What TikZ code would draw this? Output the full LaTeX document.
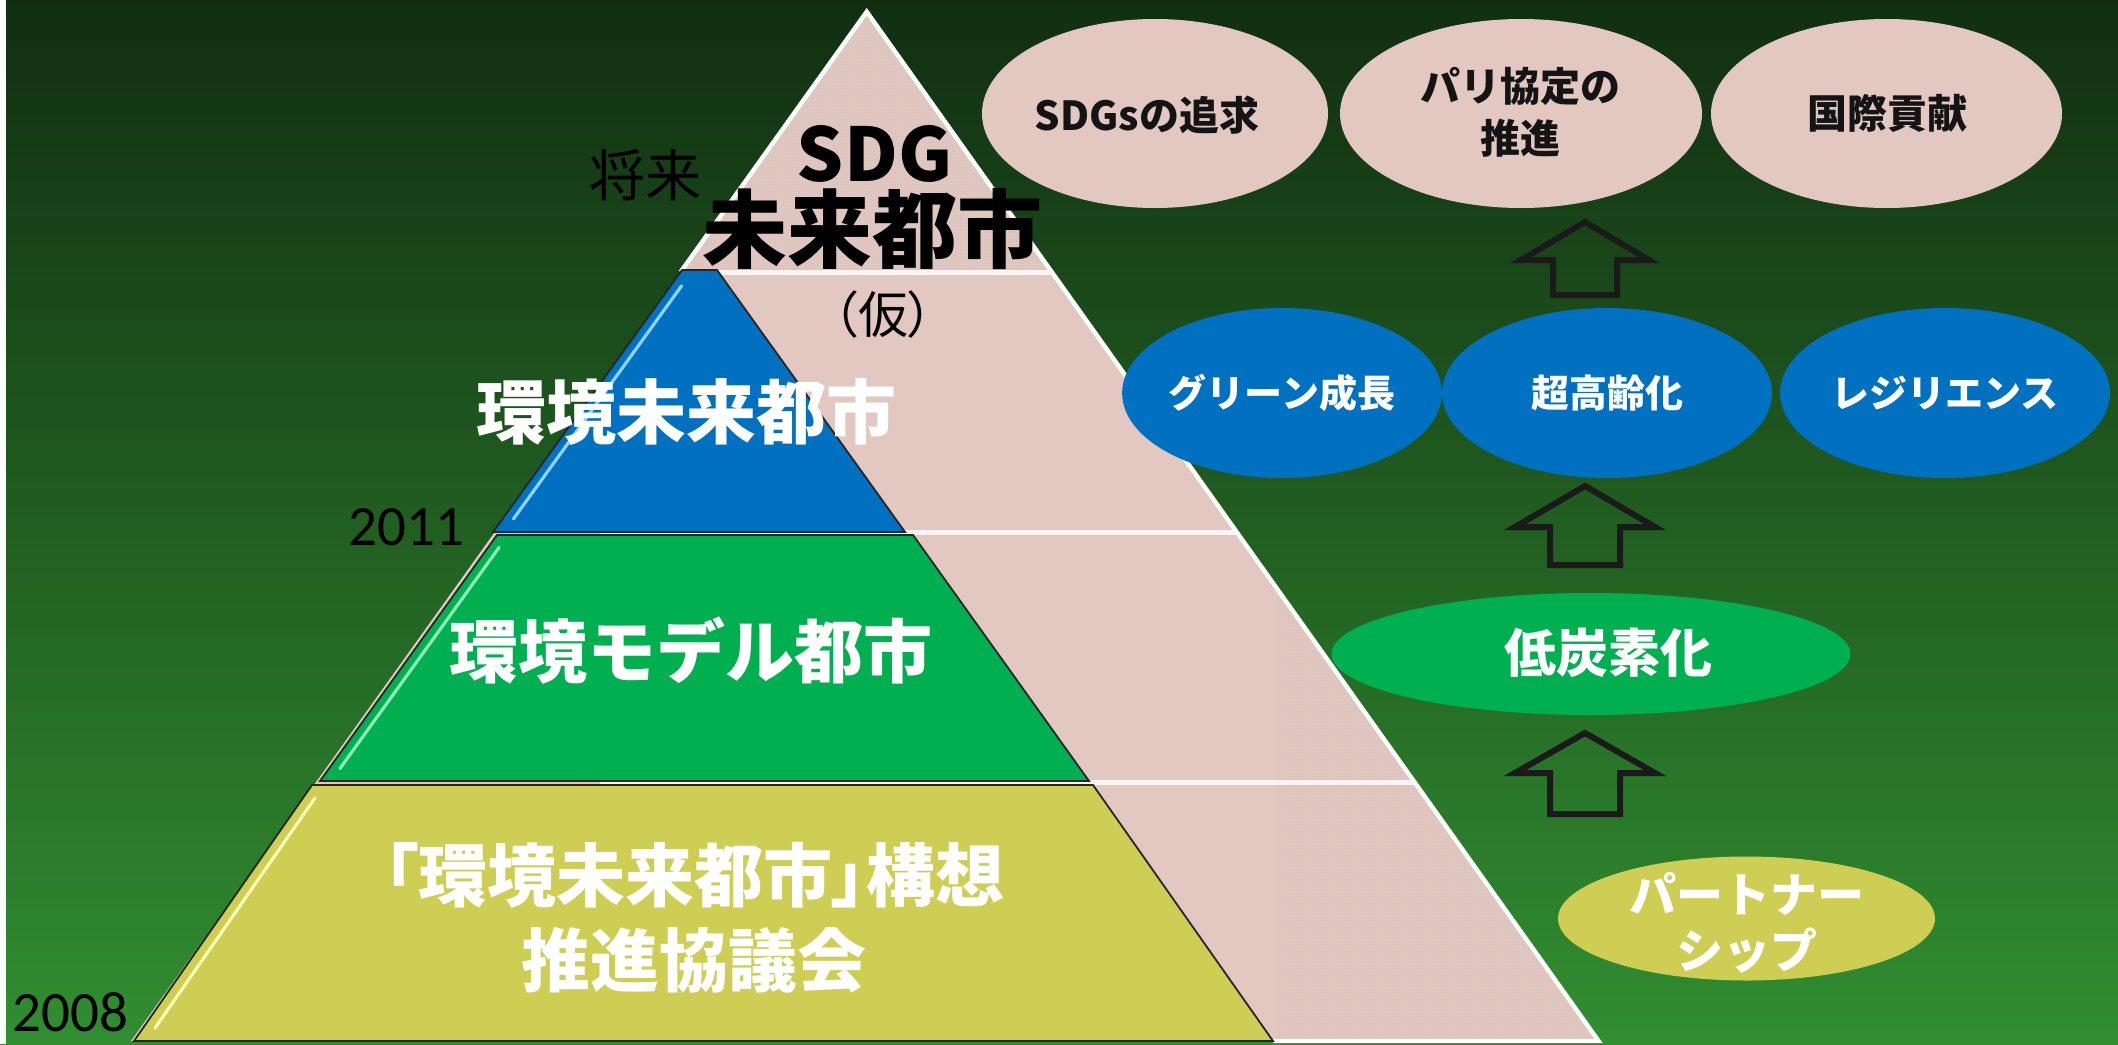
\documentclass[tikz,border=0pt]{standalone}
\usepackage{fontspec}
\newfontfamily\jpfont{Noto Sans CJK JP}
\newfontfamily\jppfont[RawFeature=+palt]{Noto Sans CJK JP}
\newfontfamily\yearfont{Carlito}
\usetikzlibrary{shapes.geometric,patterns,calc}

\pgfdeclarepatternformonly{finedots}{\pgfqpoint{0pt}{0pt}}{\pgfqpoint{1.5pt}{1.5pt}}{\pgfqpoint{1.5pt}{1.5pt}}{%
  \pgfpathrectangle{\pgfqpoint{0pt}{0pt}}{\pgfqpoint{0.75pt}{0.75pt}}%
  \pgfpathrectangle{\pgfqpoint{0.75pt}{0.75pt}}{\pgfqpoint{0.75pt}{0.75pt}}%
  \pgfusepath{fill}}

\definecolor{bgtop}{RGB}{17,46,17}
\definecolor{bgbot}{RGB}{49,142,49}
\definecolor{pinkfill}{RGB}{227,200,193}
\definecolor{texdot}{RGB}{214,196,188}
\definecolor{dividerwhite}{RGB}{252,244,244}
\definecolor{blueA}{RGB}{0,112,192}
\definecolor{greenA}{RGB}{0,176,80}
\definecolor{yellowA}{RGB}{206,206,84}
\definecolor{glossblue}{RGB}{140,210,250}
\definecolor{glossgreen}{RGB}{140,235,180}
\definecolor{glossyellow}{RGB}{250,250,180}
\definecolor{inkblack}{RGB}{20,20,20}
\definecolor{arrowgray}{RGB}{26,26,26}

\tikzset{
  pinkarea/.style={fill=pinkfill},
  texture/.style={pattern=finedots, pattern color=texdot},
  edgeline/.style={draw=white, line width=2.2pt, line join=miter},
  divider/.style={draw=dividerwhite, line width=2.5pt},
  tier/.style={draw=black!85, line width=0.9pt, line join=miter},
  gloss/.style={line width=1.6pt, line cap=round},
  pyrtext/.style={text=white, inner sep=0pt, align=center, font=\jpfont\bfseries\fontsize{34.5pt}{42.5pt}\selectfont},
  yeartext/.style={text=black, inner sep=0pt, font=\yearfont\fontsize{28.5pt}{34pt}\selectfont},
  goal/.style={ellipse, fill=pinkfill, inner sep=0pt, minimum height=94.5pt},
  goaltext/.style={text=inkblack, inner sep=0pt, align=center, font=\jpfont\bfseries\fontsize{20pt}{26pt}\selectfont},
  issue/.style={ellipse, fill=blueA, inner sep=0pt, minimum height=85pt, minimum width=165pt, text=white, font=\jpfont\bfseries\fontsize{19pt}{23pt}\selectfont},
  blockarrow/.style={draw=arrowgray, line width=3pt, line join=miter, miter limit=10},
}

\newcommand{\uparrowblock}[6]{% cx, ytop, yhead, ybot, halfwing, halfshaft
  \draw[blockarrow] (#1,#2) -- (#1+#5,#3) -- (#1+#6,#3) -- (#1+#6,#4) -- (#1-#6,#4) -- (#1-#6,#3) -- (#1-#5,#3) -- cycle;}

\begin{document}
\begin{tikzpicture}[x=0.5pt,y=-0.5pt]
\useasboundingbox (0,0) rectangle (2118,1044);
% background
\shade[top color=bgtop, bottom color=bgbot] (0,0) rectangle (2118,1044);
\fill[white] (0,0) rectangle (6,1044);

% outer pink pyramid
\coordinate (pA) at (866.7,11.7);
\coordinate (pL) at (131,1041);
\coordinate (pR) at (1598.6,1041);
\fill[pinkarea] (pA) -- (pL) -- (pR) -- cycle;
\begin{scope}
  \clip (pA) -- (pL) -- (pR) -- cycle;
  \fill[texture] (0,0) rectangle (2118,272);
  \fill[texture] (1277,0) rectangle (2118,1044);
  \draw[divider] (600,272) -- (1700,272);
  \draw[divider] (600,532) -- (1700,532);
  \draw[divider] (600,782) -- (1700,782);
\end{scope}
\draw[edgeline] (680.6,272) -- (pA) -- (pR) -- (1273,1041);

% coloured tiers
\coordinate (b1) at (682,270);  \coordinate (b2) at (717,270);
\coordinate (b3) at (905,532);  \coordinate (b4) at (493,532);
\coordinate (g1) at (497,535);  \coordinate (g2) at (913,535);
\coordinate (g3) at (1089,781); \coordinate (g4) at (320,781);
\coordinate (y1) at (312,785);  \coordinate (y2) at (1093,785);
\coordinate (y3) at (1273,1041);\coordinate (y4) at (134,1041);
\filldraw[tier, fill=blueA] (b1) -- (b2) -- (b3) -- (b4) -- cycle;
\filldraw[tier, fill=greenA] (g1) -- (g2) -- (g3) -- (g4) -- cycle;
\filldraw[tier, fill=yellowA] (y1) -- (y2) -- (y3) -- (y4) -- cycle;
\draw[gloss, glossblue] ($(b1)!0.06!(b4)+(11,0)$) -- ($(b1)!0.95!(b4)+(11,0)$);
\draw[gloss, glossgreen] ($(g1)!0.05!(g4)+(11,0)$) -- ($(g1)!0.95!(g4)+(11,0)$);
\draw[gloss, glossyellow] ($(y1)!0.05!(y4)+(12,0)$) -- ($(y1)!0.95!(y4)+(12,0)$);

% pyramid texts
\node[text=black, inner sep=0pt, font=\jpfont\fontsize{28pt}{32pt}\selectfont] (future) at (645,175) {将来};
\node[text=black, inner sep=0pt, font=\jpfont\bfseries\fontsize{37pt}{40pt}\selectfont] (sdg) at (874.5,154) {SDG};
\node[text=black, inner sep=0pt, font=\jpfont\bfseries\fontsize{42.5pt}{46pt}\selectfont] (sdgcity) at (872,229) {未来都市};
\node[text=black, inner sep=0pt, font=\jppfont\fontsize{25pt}{28pt}\selectfont] (kari) at (883,314) {（仮）};
\node[pyrtext, font=\jpfont\bfseries\fontsize{35pt}{42pt}\selectfont] (envfuture) at (686,412) {環境未来都市};
\node[pyrtext] (envmodel) at (691,651) {環境モデル都市};
\node[pyrtext, font=\jppfont\bfseries\fontsize{34.5pt}{42.5pt}\selectfont] (council) at (694,917.5) {「環境未来都市」構想\\推進協議会};
\node[yeartext] (y2011) at (406.5,527) {2011};
\node[yeartext] (y2008) at (70.5,1012) {2008};

% goal ellipses
\node[goal, minimum width=173pt] (e1) at (1155,113.5) {};
\node[goaltext] (e1t) at (1147,115) {SDGsの追求};
\node[goal, minimum width=181pt] (e2) at (1521,113.5) {};
\node[goaltext] (e2t) at (1520,112) {パリ協定の\\推進};
\node[goal, minimum width=175.5pt] (e3) at (1886.5,113.5) {};
\node[goaltext] (e3t) at (1887,113) {国際貢献};

% issue ellipses
\node[issue, minimum width=155pt] (e4) at (1282,393) {グリーン成長};
\node[issue] (e5) at (1607,393) {超高齢化};
\node[issue] (e6) at (1945,393) {レジリエンス};

% low carbon
\node[ellipse, fill=greenA, inner sep=0pt, minimum width=259.5pt, minimum height=61pt] (e7) at (1591,654) {};
\node[text=white, inner sep=0pt, font=\jpfont\bfseries\fontsize{26pt}{30pt}\selectfont] (e7t) at (1608,653) {低炭素化};

% partnership
\node[ellipse, fill=yellowA, inner sep=0pt, minimum width=188.5pt, minimum height=62pt] (e8) at (1746.5,918.5) {};
\node[text=white, inner sep=0pt, align=center, font=\jpfont\bfseries\fontsize{23.5pt}{28pt}\selectfont] (e8t) at (1747,923) {パートナー\\シップ};

% block arrows
\uparrowblock{1585}{222}{260}{295}{64}{32}
\uparrowblock{1585}{486}{527}{565}{70}{35}
\uparrowblock{1585}{733}{773}{814}{70}{35}
\end{tikzpicture}
\end{document}
